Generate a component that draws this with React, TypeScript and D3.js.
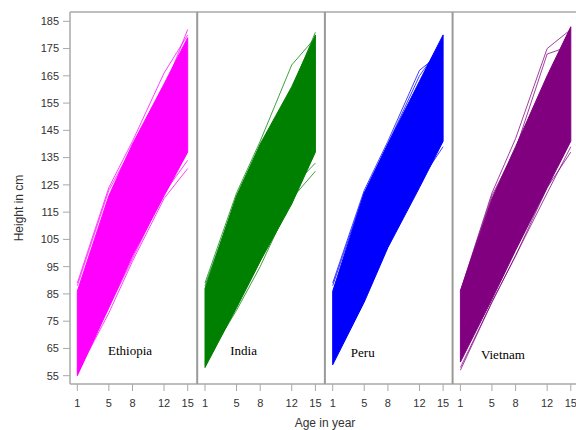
import * as d3 from 'd3'

// Young Lives survey rounds: age in years
const AGES = [1, 5, 8, 12, 15]
const COUNTRIES = ['Ethiopia', 'India', 'Peru', 'Vietnam']
const COLORS = ['#ff00ff', '#008000', '#0000ff', '#800080']

// envelope of the bulk of the trajectories (height in cm at each age)
const ETHIOPIA_UPPER = [86, 121, 140, 162, 179]
const ETHIOPIA_LOWER = [55, 80, 99, 121, 137]
const INDIA_UPPER = [87, 121, 140, 161, 180]
const INDIA_LOWER = [58, 80, 97, 118, 137]
const PERU_UPPER = [86, 122, 140, 163, 180]
const PERU_LOWER = [59, 82, 102, 124, 141]
const VIETNAM_UPPER = [86, 120, 139, 165, 183]
const VIETNAM_LOWER = [60, 83, 101, 124, 141]

// a few individual children that stick out of the bundle
const ETHIOPIA_OUTLIERS = [
  [89, 124, 141, 166, 180],
  [88, 123, 139, 160, 182],
  [56, 78, 97, 120, 131],
  [57, 80, 98, 122, 134],
]
const INDIA_OUTLIERS = [
  [89, 122, 141, 169, 179],
  [88, 120, 138, 160, 181],
  [60, 79, 95, 120, 130],
  [59, 80, 97, 124, 133],
]
const PERU_OUTLIERS = [
  [89, 123, 141, 167, 174],
  [88, 122, 140, 165, 177],
  [60, 83, 103, 126, 139],
]
const VIETNAM_OUTLIERS = [
  [86, 122, 142, 175, 182],
  [86, 121, 138, 173, 176],
  [58, 82, 99, 124, 137],
  [57, 82, 99, 122, 139],
]

const UPPER = [ETHIOPIA_UPPER, INDIA_UPPER, PERU_UPPER, VIETNAM_UPPER]
const LOWER = [ETHIOPIA_LOWER, INDIA_LOWER, PERU_LOWER, VIETNAM_LOWER]
const OUTLIERS = [ETHIOPIA_OUTLIERS, INDIA_OUTLIERS, PERU_OUTLIERS, VIETNAM_OUTLIERS]

const Y_TICKS = [55, 65, 75, 85, 95, 105, 115, 125, 135, 145, 155, 165, 175, 185]
const X_TICKS = [1, 5, 8, 12, 15]
// where the country name sits inside its panel (age, height)
const LABEL_AT = [[4.9, 62.5], [4.2, 62.5], [3.3, 62], [3.6, 61]]

const W = 576
const H = 430
const left = 70
const top = 12
const bottom = 384
const panelW = 127.7

export default function App() {
  const y = d3.scaleLinear().domain([55, 185]).range([375.7, 21.3])
  const x = d3.scaleLinear().domain([1, 15]).range([7.3, 117.7])
  const panelX = (i: number) => left + i * panelW

  const line = d3.line<number>()
    .x((_, j) => x(AGES[j]))
    .y(d => y(d))

  const band = (i: number) => {
    const lo = LOWER[i]
    const hi = UPPER[i]
    return d3.area<number>()
      .x((_, j) => x(AGES[j]))
      .y0((_, j) => y(lo[j]))
      .y1((_, j) => y(hi[j]))(AGES)
  }

  const axisColor = '#a8a8a8'
  const textColor = '#333'

  return (
    <svg width={W} height={H} style={{ position: 'absolute', left: 0, top: 0, background: '#fff' }}
      fontFamily="Arial, 'Liberation Sans', sans-serif">
      {/* panels */}
      {COUNTRIES.map((c, i) => (
        <g key={c} transform={`translate(${panelX(i)},0)`}>
          <path d={band(i) ?? ''} fill={COLORS[i]} stroke={COLORS[i]} strokeWidth={1} />
          {OUTLIERS[i].map((o, k) => (
            <path key={k} d={line(o) ?? ''} fill="none" stroke={COLORS[i]} strokeWidth={1} opacity={0.75} />
          ))}
          <text x={x(LABEL_AT[i][0])} y={y(LABEL_AT[i][1])} fontFamily="'Liberation Serif', 'Times New Roman', serif"
            fontSize={13} fill="#000">{c}</text>
          {X_TICKS.map(t => (
            <g key={t}>
              <line x1={x(t)} x2={x(t)} y1={bottom} y2={bottom + 7} stroke={axisColor} />
              <text x={x(t)} y={407} textAnchor="middle" fontSize={11} fill={textColor}>{t}</text>
            </g>
          ))}
        </g>
      ))}

      {/* frame */}
      <line x1={left} x2={W} y1={top} y2={top} stroke={axisColor} strokeWidth={1.5} />
      <line x1={left} x2={W} y1={bottom} y2={bottom} stroke={axisColor} strokeWidth={1.5} />
      <line x1={left} x2={left} y1={top} y2={bottom} stroke={axisColor} strokeWidth={1.5} />
      {[1, 2, 3].map(i => (
        <line key={i} x1={panelX(i) - 0.5} x2={panelX(i) - 0.5} y1={top} y2={bottom} stroke="#9a9a9a" strokeWidth={2} />
      ))}

      {/* y axis */}
      {Y_TICKS.map(t => (
        <g key={t}>
          <line x1={left - 7} x2={left} y1={y(t)} y2={y(t)} stroke={axisColor} />
          <text x={left - 11} y={y(t)} dy="0.35em" textAnchor="end" fontSize={11} fill={textColor}>{t}</text>
        </g>
      ))}

      <text transform={`translate(23,${(top + bottom) / 2 + 10}) rotate(-90)`} textAnchor="middle" fontSize={12} fill={textColor}>
        Height in cm
      </text>
      <text x={325} y={427} textAnchor="middle" fontSize={12} fill={textColor}>Age in year</text>
    </svg>
  )
}
